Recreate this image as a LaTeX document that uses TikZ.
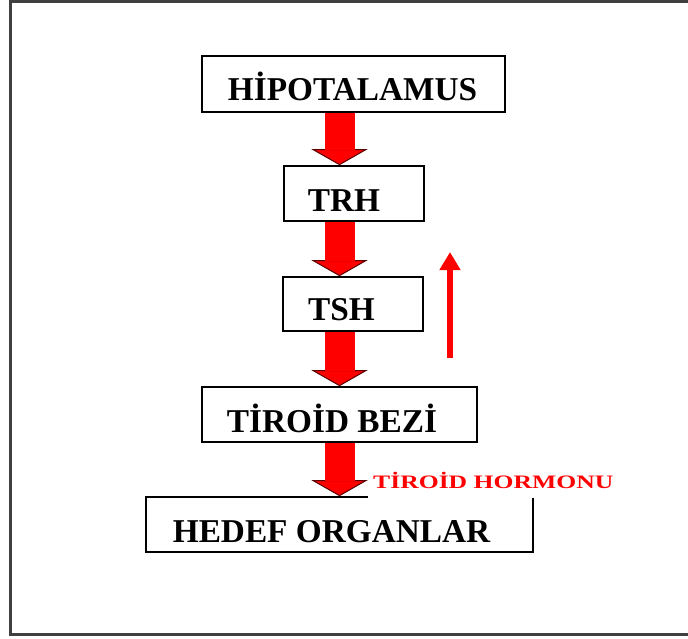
\documentclass[tikz,border=0pt]{standalone}
\usepackage{fontspec}
\setmainfont{Liberation Serif}
\usetikzlibrary{arrows.meta,backgrounds}
\tikzset{
	kutu/.style={draw=black, line width=1.6pt, inner sep=0pt},
	yazi/.style={anchor=base, font=\fontsize{33.3}{36}\selectfont\bfseries},
	kalinok/.style={draw=red, line width=30pt, -{Triangle[width=56pt, length=16pt, fill=red, color=red!35!black, line width=1pt]}},
	inceok/.style={draw=red, line width=6pt, -{Triangle[width=20pt, length=18pt]}}
}
\begin{document}
\begin{tikzpicture}[x=1pt, y=-1pt]
	\useasboundingbox (0,0) rectangle (688,638);
\draw [line width=3pt, black!75] (688,1.5) -- (10,1.5) -- (10,634.5) -- (688,634.5);

\node [kutu, minimum width=303pt, minimum height=56pt] (hipo) at (353.5,84) {};
\node [kutu, minimum width=140pt, minimum height=55pt] (trh) at (354,193.5) {};
\node [kutu, minimum width=140pt, minimum height=54pt] (tsh) at (353,304) {};
\node [kutu, minimum width=275pt, minimum height=55pt] (tir) at (339.5,414.5) {};
\node [kutu, minimum width=387pt, minimum height=55pt] (hedef) at (339.5,524.5) {};

\node [yazi] (hipoY) at (352.5,100) {HİPOTALAMUS};
\node [yazi] (trhY) at (344,211) {TRH};
\node [yazi] (tshY) at (341.5,320) {TSH};
\node [yazi] (tirY) at (332,432) {TİROİD BEZİ};
\node [yazi] (hedefY) at (331.5,542) {HEDEF ORGANLAR};

\begin{scope}[on background layer]
\foreach \a/\b in {hipo/trh, trh/tsh, tsh/tir, tir/hedef}{
	\draw [kalinok] (\a.south -| tir) -- (\b.north -| tir);
	\draw [red, line width=30pt, shorten >=15.5pt] (\a.south -| tir) -- (\b.north -| tir);
}
\end{scope}

\node [anchor=base west, fill=white, inner xsep=5pt, inner ysep=9.5pt, text=red, font=\fontsize{19}{21}\selectfont\bfseries] (hormon) at (368,488) {\scalebox{1.35}[1]{TİROİD HORMONU}};

\coordinate (geriA) at (450,358);
\coordinate (geriB) at (450,252);
\draw [inceok] (geriA) -- (geriB);
	\end{tikzpicture}
\end{document}
